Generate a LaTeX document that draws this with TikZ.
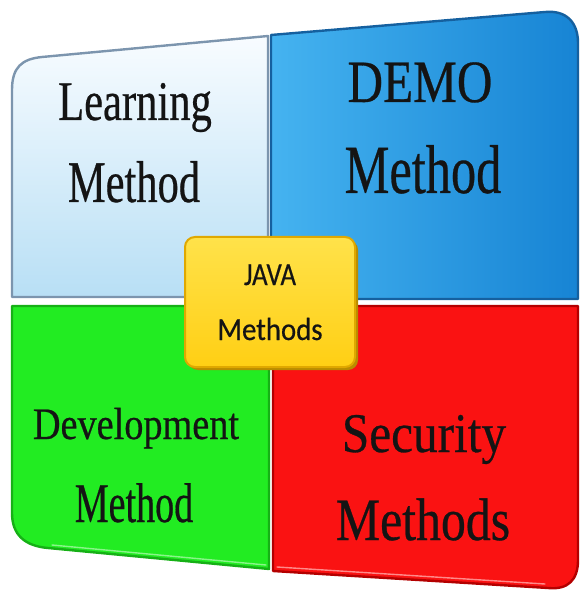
\documentclass[tikz,border=0pt]{standalone}
\usepackage{fontspec}
\setmainfont{Liberation Serif}[FakeBold=0.5]
\newfontfamily\boxfont{Carlito}[FakeBold=0.5]
\usepackage{graphicx}

% one line of label text: size, horizontal squeeze, text
\newcommand\qline[3]{{\fontsize{#1}{#1}\selectfont\scalebox{#2}[1]{#3}}}

\definecolor{lrnTop}{HTML}{F8FCFF}
\definecolor{lrnBot}{HTML}{B8DFF5}
\definecolor{lrnEdge}{HTML}{7C95AE}
\definecolor{demoL}{HTML}{45B3F0}
\definecolor{demoR}{HTML}{1784D4}
\definecolor{demoEdge}{HTML}{15609F}
\definecolor{devFill}{HTML}{22EC22}
\definecolor{devEdge}{HTML}{16B016}
\definecolor{devHi}{HTML}{8AF58A}
\definecolor{secFill}{HTML}{FA1212}
\definecolor{secEdge}{HTML}{B40000}
\definecolor{secHi}{HTML}{FF8A8A}
\definecolor{javaTop}{HTML}{FFE24A}
\definecolor{javaBot}{HTML}{FFCF14}
\definecolor{javaEdge}{HTML}{E0A800}
\definecolor{javaShadow}{HTML}{B98C00}

\tikzset{
  quadedge/.style={line width=2.4pt, line join=round},
  qlabel/.style={anchor=base, inner sep=0pt, text=black!92},
}

\begin{document}
\begin{tikzpicture}[x=1pt, y=-1pt]
\useasboundingbox (0,0) rectangle (581,593);

% Learning quadrant (top left)
\path[quadedge, draw=lrnEdge, top color=lrnTop, bottom color=lrnBot]
  (12,297) -- (12,90) .. controls (12,67) and (22,59) .. (42,57)
  -- (268,36) -- (268,297) -- cycle;

% DEMO quadrant (top right)
\path[quadedge, draw=demoEdge, left color=demoL, right color=demoR]
  (271,299) -- (271,35) -- (545,12) .. controls (566,10) and (578,22) .. (578,43)
  -- (578,299) -- cycle;

% Development quadrant (bottom left)
\path[quadedge, draw=devEdge, fill=devFill]
  (12,306) -- (269,306) -- (269,569) -- (48,548)
  .. controls (25,546) and (12,535) .. (12,513) -- cycle;
\draw[devHi, line width=1.4pt, line cap=round]
  (52,545) -- (266,565);

% Security quadrant (bottom right)
\path[quadedge, draw=secEdge, fill=secFill]
  (273,306) -- (578,306) -- (578,560) .. controls (578,580) and (568,590) .. (548,588)
  -- (273,571) -- cycle;
\draw[secHi, line width=1.4pt, line cap=round]
  (277,567) -- (545,584);

% JAVA box in the middle
\fill[javaShadow, rounded corners=10pt] (188,240) rectangle (358,370);
\path[draw=javaEdge, line width=2pt, rounded corners=10pt,
      top color=javaTop, bottom color=javaBot]
  (185,237) rectangle (355,367);

% labels
\node[qlabel] (learn1) at (135,120) {\qline{56}{0.76}{Learning}};
\node[qlabel] (learn2) at (134,202) {\qline{59}{0.72}{Method}};
\node[qlabel] (demo1)  at (420,102) {\qline{60}{0.82}{DEMO}};
\node[qlabel] (demo2)  at (423,193) {\qline{69}{0.73}{Method}};
\node[qlabel] (dev1)   at (136,439) {\qline{45}{0.85}{Development}};
\node[qlabel] (dev2)   at (134,522) {\qline{56}{0.68}{Method}};
\node[qlabel] (sec1)   at (424,452) {\qline{56}{0.88}{Security}};
\node[qlabel] (sec2)   at (423,540) {\qline{60}{0.83}{Methods}};
\node[qlabel] (java1)  at (270,285) {\boxfont\qline{32}{0.84}{JAVA}};
\node[qlabel] (java2)  at (270,340) {\boxfont\qline{32}{0.90}{Methods}};
\end{tikzpicture}
\end{document}
